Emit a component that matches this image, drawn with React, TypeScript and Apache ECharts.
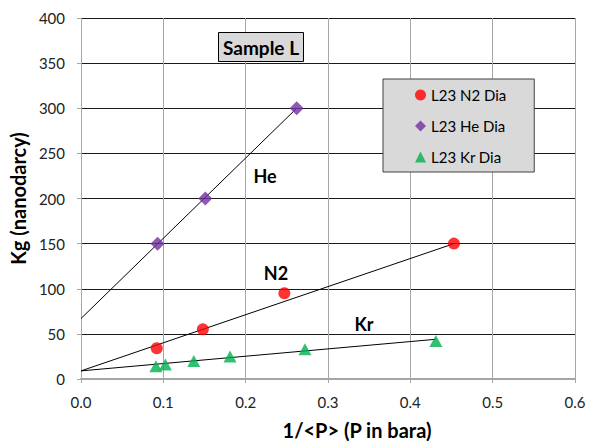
import React, { useEffect, useRef } from "react";
import * as echarts from "echarts";

// Measured permeability vs. inverse mean pressure, sample L23
const n2X = [0.092, 0.148, 0.247, 0.453];
const n2Y = [34, 55, 95, 150];
const heX = [0.093, 0.151, 0.262];
const heY = [150, 200, 300];
const krX = [0.091, 0.1025, 0.137, 0.181, 0.272, 0.431];
const krY = [14, 16, 20, 25, 33, 42];

// Linear trend lines (Klinkenberg extrapolation to 1/<P> = 0)
const n2Fit = [[0, 9], [0.453, 150]];
const heFit = [[0, 67], [0.262, 300]];
const krFit = [[0, 9], [0.431, 44]];

const seriesNames = ["L23 N2 Dia", "L23 He Dia", "L23 Kr Dia"];
const gasLabels = ["He", "N2", "Kr"];
const chartTitle = "Sample L";
const xAxisName = "1/<P> (P in bara)";
const yAxisName = "Kg (nanodarcy)";

const FONT = "Lato, 'Open Sans', sans-serif";

const pairs = (xs: number[], ys: number[]) => xs.map((x, i) => [x, ys[i]]);

export default function App() {
  const ref = useRef<HTMLDivElement>(null);

  useEffect(() => {
    if (!ref.current) return;
    document.body.style.margin = "0";
    const chart = echarts.init(ref.current, undefined, { renderer: "svg" });

    const fitLine = (data: number[][]) => ({
      type: "line",
      data,
      showSymbol: false,
      symbol: "none",
      silent: true,
      z: 1,
      lineStyle: { color: "#000", width: 1 },
    });

    const boldText = (text: string, x: number, y: number) => ({
      type: "text",
      x,
      y,
      z: 10,
      style: {
        text,
        font: `bold 18px ${FONT}`,
        fill: "#000",
        align: "center",
        verticalAlign: "middle",
      },
    });

    chart.setOption({
      animation: false,
      backgroundColor: "#fff",
      textStyle: { fontFamily: FONT },
      title: {
        text: chartTitle,
        left: 218,
        top: 32,
        padding: [4, 5, 4, 5],
        backgroundColor: "#d9d9d9",
        borderColor: "#000",
        borderWidth: 1,
        textStyle: {
          fontFamily: FONT,
          fontWeight: "bold",
          fontSize: 19,
          lineHeight: 22,
          color: "#000",
        },
      },
      legend: {
        data: seriesNames,
        orient: "vertical",
        left: 383,
        top: 79,
        padding: [8, 28, 7, 32],
        itemGap: 15,
        itemWidth: 11,
        itemHeight: 11,
        backgroundColor: "#d9d9d9",
        borderColor: "#404040",
        borderWidth: 1,
        textStyle: {
          fontFamily: FONT,
          fontSize: 15,
          lineHeight: 16,
          color: "#000",
        },
      },
      grid: { left: 79, right: 20, top: 18, bottom: 61 },
      xAxis: {
        type: "value",
        min: 0,
        max: 0.6,
        interval: 0.1,
        name: xAxisName,
        nameLocation: "middle",
        nameGap: 41,
        nameTextStyle: {
          fontFamily: FONT,
          fontWeight: "bold",
          fontSize: 20,
          color: "#000",
          padding: [0, 0, 0, 58],
        },
        axisLine: { lineStyle: { color: "#a6a6a6", width: 2 } },
        axisTick: { show: true, length: 4, lineStyle: { color: "#a6a6a6" } },
        axisLabel: {
          fontFamily: FONT,
          fontSize: 15,
          color: "#222",
          margin: 15,
          formatter: (v: number) => v.toFixed(1),
        },
        splitLine: { show: true, lineStyle: { color: "#a6a6a6", width: 1 } },
      },
      yAxis: {
        type: "value",
        min: 0,
        max: 400,
        interval: 50,
        name: yAxisName,
        nameLocation: "middle",
        nameGap: 46,
        nameTextStyle: {
          fontFamily: FONT,
          fontWeight: "bold",
          fontSize: 20,
          color: "#000",
        },
        axisLine: { show: true, lineStyle: { color: "#a6a6a6", width: 1 } },
        axisTick: { show: true, length: 4, lineStyle: { color: "#a6a6a6" } },
        axisLabel: {
          fontFamily: FONT,
          fontSize: 15,
          color: "#222",
          margin: 16,
        },
        splitLine: { show: true, lineStyle: { color: "#1a1a1a", width: 1 } },
      },
      series: [
        fitLine(heFit),
        fitLine(n2Fit),
        fitLine(krFit),
        {
          name: seriesNames[0],
          type: "scatter",
          symbol: "circle",
          symbolSize: 12,
          z: 3,
          itemStyle: { color: "#ff0000" },
          data: pairs(n2X, n2Y),
        },
        {
          name: seriesNames[1],
          type: "scatter",
          symbol: "diamond",
          symbolSize: 14,
          z: 3,
          itemStyle: { color: "#7030a0" },
          data: pairs(heX, heY),
        },
        {
          name: seriesNames[2],
          type: "scatter",
          symbol: "triangle",
          symbolSize: [13, 12],
          z: 3,
          itemStyle: { color: "#00b050" },
          data: pairs(krX, krY),
        },
      ],
      graphic: [
        boldText(gasLabels[0], 265, 176),
        boldText(gasLabels[1], 276, 273),
        boldText(gasLabels[2], 364, 324),
      ],
    });

    return () => chart.dispose();
  }, []);

  return <div ref={ref} style={{ width: 595, height: 445 }} />;
}
